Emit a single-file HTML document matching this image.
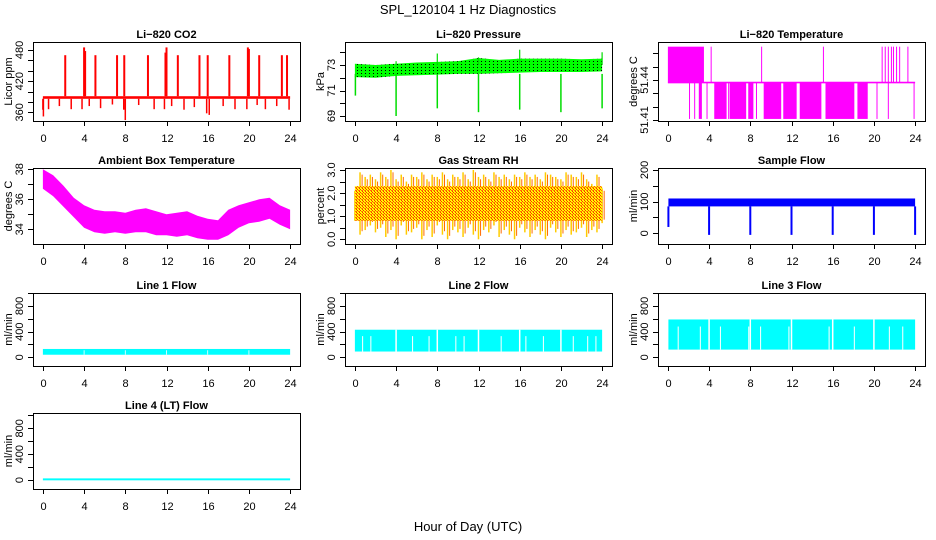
<!DOCTYPE html>
<html><head><meta charset="utf-8"><title>SPL_120104 1 Hz Diagnostics</title>
<style>
html,body{margin:0;padding:0;background:#fff;}
svg{display:block;font-family:"Liberation Sans",Arial,sans-serif;}
</style></head>
<body>
<svg id="chart" width="936" height="540" viewBox="0 0 936 540" xmlns="http://www.w3.org/2000/svg">
<defs>
<pattern id="pGreen" width="4" height="3" patternUnits="userSpaceOnUse"><rect width="4" height="3" fill="#00ff00"/><rect x="1" y="1" width="1" height="1" fill="#000"/></pattern>
<pattern id="pRH" width="3" height="3" patternUnits="userSpaceOnUse"><rect width="3" height="3" fill="#ffff00"/><rect x="0" y="0" width="1" height="1" fill="#ff2a00"/><rect x="1" y="1" width="2" height="1" fill="#ff7000"/><rect x="2" y="2" width="1" height="1" fill="#ff2a00"/></pattern>
</defs>
<text x="468" y="14" text-anchor="middle" font-size="13">SPL_120104  1 Hz Diagnostics</text>
<text x="468" y="531" text-anchor="middle" font-size="13">Hour of Day (UTC)</text>
</svg>
<script>
// ---------- data ----------
const xTicks = [0,4,8,12,16,20,24];
// CO2
const co2BandLo = 386, co2BandHi = 391;
const co2SpikeHours = [2.17,4.0,4.1,5.1,7.2,7.9,10.2,11.9,12.0,13.1,15.2,16.0,18.1,19.9,20.0,21.0,23.2,23.7];
const co2SpikeVals  = [470,485,478,470,470,470,470,475,485,470,470,470,470,485,482,470,470,470];
const co2DipHours = [0.0,0.05,0.55,1.6,2.75,3.8,4.5,5.6,6.75,7.85,8.0,9.3,10.8,11.8,12.5,13.7,14.7,15.9,16.15,17.5,18.65,19.8,20.8,21.6,22.7,23.9];
const co2DipVals  = [365,352,366,372,366,366,372,368,375,365,345,374,366,366,372,365,370,358,355,372,366,366,374,366,372,365];
// Pressure
const presHours = [0,2,4,6,8,10,12,14,16,18,20,22,24];
const presHi = [73.1,73.0,73.1,73.2,73.25,73.3,73.55,73.4,73.5,73.5,73.5,73.45,73.5];
const presLo = [72.05,72.0,72.15,72.2,72.25,72.3,72.3,72.35,72.4,72.45,72.45,72.45,72.5];
const presDipHours = [0.05,4.0,8.0,12.0,16.0,20.0,24.0];
const presDipVals  = [70.6,69.0,69.6,69.3,69.5,69.3,69.6];
const presUpHours = [4.0,8.0,12.0,16.0,20.0,24.0];
const presUpVals  = [73.3,73.9,73.6,74.2,73.4,74.0];
// Li-820 temperature
const tLevels = [51.4108, 51.4381, 51.465];
const tTopBlock = [0.0, 3.5];
const tLowSegStart = [3.0,4.5,6.0,7.8,9.3,11.2,12.8,15.3,18.4];
const tLowSegEnd   = [3.3,5.7,7.6,8.3,11.0,12.5,14.9,18.1,19.4];
const tTopSpikes = [4.2,9.1,15.1,20.8,21.1,21.4,21.7,21.9,22.2,22.5,23.3];
const tLowSpikes = [2.1,2.6,3.8,5.9,8.6,20.3,21.4,23.9];
// Ambient box temperature
const ambHours = [0,1,2,3,4,5,6,7,8,9,10,11,12,13,14,15,16,17,18,19,20,21,22,23,24];
const ambHi = [38.0,37.6,36.9,36.1,35.6,35.3,35.2,35.2,35.1,35.3,35.4,35.2,35.0,35.1,35.2,34.9,34.7,34.6,35.3,35.6,35.8,36.0,36.1,35.6,35.3];
const ambLo = [36.7,36.2,35.5,34.8,34.1,33.8,33.7,33.8,33.7,33.8,33.8,33.6,33.6,33.5,33.6,33.4,33.3,33.3,33.6,34.1,34.4,34.5,34.7,34.3,34.0];
// Gas stream RH (half-hour extremes)
const rhCoreLo = 0.8, rhCoreHi = 2.3;
const rhMax = [2.1,2.9,2.7,2.8,2.6,2.9,2.7,3.0,2.6,2.8,2.5,2.8,2.7,2.9,2.6,2.8,2.7,2.9,2.6,2.8,2.7,2.9,2.6,3.0,2.7,2.8,2.6,2.9,2.7,2.8,2.6,2.8,2.7,2.9,2.7,2.8,2.6,2.9,2.8,2.7,2.6,2.9,2.8,2.7,2.9,2.6,2.4,2.8,2.2];
const rhMin = [0.8,0.2,0.4,0.6,0.3,0.5,0.1,0.4,0.0,0.6,0.2,0.3,0.5,0.0,0.4,0.1,0.6,0.2,0.0,0.4,0.3,0.1,0.5,0.2,0.0,0.4,0.3,0.6,0.1,0.4,0.2,0.0,0.5,0.3,0.1,0.4,0.2,0.0,0.5,0.3,0.1,0.4,0.2,0.3,0.5,0.1,0.4,0.3,0.7];
// Sample flow
const sfBandLo = 85, sfBandHi = 110;
const sfDipHours = [0.05,4.0,8.0,12.0,16.0,20.0,24.0];
const sfDipVals  = [20,-5,-5,-5,-5,-5,-5];
// Line flows
const l1Lo = 40, l1Hi = 130;
const l2Lo = 90, l2Hi = 430, l2GapTop = 330;
const l2PartialGaps = [0.75,1.55,5.6,7.2,9.8,10.6,14.2,16.6,18.3,21.2,22.6,23.4];
const l3Lo = 120, l3Hi = 590, l3GapTop = 480;
const l3PartialGaps = [1.0,3.15,5.1,7.85,9.0,11.75,15.65,18.1,21.5,22.8];
const fullGaps = [4,8,12,16,20];
const l4Lo = -5, l4Hi = 25;

// ---------- helpers ----------
const NS = 'http://www.w3.org/2000/svg';
const svg = document.getElementById('chart');
function mk(tag, attrs, parent){const e=document.createElementNS(NS,tag);for(const k in attrs)e.setAttribute(k,attrs[k]);(parent||svg).appendChild(e);return e;}
const colLeft=[33,345,658], boxW=267;
const rowTop=[42,168,293,413], rowH=[79,76,73,76];
let clipN=0;
function panel(name,title,ylab,col,row,v1,p1,v2,p2,yt,ylabels){
  const L=colLeft[col], T=rowTop[row], H=rowH[row];
  const g=mk('g',{});
  
  
  const sx=h=>L+(h+0.96)/25.92*boxW;
  const sy=v=>p1+(v-v1)*(p2-p1)/(v2-v1);
  const cid='clip'+(clipN++);
  const cp=mk('clipPath',{id:cid},g); mk('rect',{x:L,y:T,width:boxW,height:H},cp);
  const data=mk('g',{'clip-path':'url(#'+cid+')'},g);
  
  
  const box=mk('rect',{x:L+0.5,y:T+0.5,width:boxW,height:H,fill:'none',stroke:'#000','stroke-width':1},g);
  
  
  const t=mk('text',{x:L+boxW/2,y:T-4,'text-anchor':'middle','font-size':11,'font-weight':'bold'},g); t.textContent=title;
  
  
  const B=T+H;
  xTicks.forEach(h=>{
    const x=Math.round(sx(h))+0.5;
    const tk=mk('line',{x1:x,x2:x,y1:B,y2:B+5,stroke:'#000'},g);
    
    
    const lb=mk('text',{x:x,y:B+21,'text-anchor':'middle','font-size':11},g); lb.textContent=h;
    
    
  });
  yt.forEach(v=>{
    const y=Math.round(sy(v))+0.5;
    const tk=mk('line',{x1:L-5,x2:L,y1:y,y2:y,stroke:'#000'},g);
    
    
  });
  ylabels.forEach(s=>{
    const y=sy(parseFloat(s));
    const lb=mk('text',{x:0,y:0,'text-anchor':'middle','font-size':11,transform:'translate('+(L-10)+','+y+') rotate(-90)'},g); lb.textContent=s;
    
    
  });
  const yl=mk('text',{x:0,y:0,'text-anchor':'middle','font-size':11,transform:'translate('+(L-21)+','+(T+H/2)+') rotate(-90)'},g); yl.textContent=ylab;
  
  
  return {sx,sy,g:data};
}
function vline(P,h,a,b,color,w,nm){const e=mk('line',{x1:P.sx(h),x2:P.sx(h),y1:P.sy(a),y2:P.sy(b),stroke:color,'stroke-width':w||1},P.g);
  
  return e;}
function band(P,h0,h1,lo,hi,fill,nm){const y1=P.sy(hi),y2=P.sy(lo);const e=mk('rect',{x:P.sx(h0),y:Math.min(y1,y2),width:P.sx(h1)-P.sx(h0),height:Math.abs(y2-y1),fill:fill},P.g);
  
  return e;}
function area(P,hs,hi,lo,fill,nm){let d='M';hs.forEach((h,i)=>{d+=P.sx(h)+','+P.sy(hi[i])+' L';});for(let i=hs.length-1;i>=0;i--){d+=P.sx(hs[i])+','+P.sy(lo[i])+(i?' L':' Z');}
  const e=mk('path',{d:d,fill:fill},P.g);
  
  return e;}

// ---------- CO2 ----------
const P1=panel('co2-panel','Li\u2212820 CO2','Licor ppm',0,0,360,112.3,480,50,[360,380,400,420,440,460,480],['360','420','480']);
band(P1,0,24,co2BandLo,co2BandHi,'#ff0000','co2-band');
co2SpikeHours.forEach((h,i)=>vline(P1,h,co2BandHi,co2SpikeVals[i],'#ff0000',2,'co2-spike'));
co2DipHours.forEach((h,i)=>vline(P1,h,co2BandLo,co2DipVals[i],'#ff0000',1.5,'co2-dip'));

// ---------- Pressure ----------
const P2=panel('pressure-panel','Li\u2212820 Pressure','kPa',1,0,69,116,73,65,[69,70,71,72,73,74],['69','71','73']);
area(P2,presHours,presHi,presLo,'url(#pGreen)','pressure-band');
presDipHours.forEach((h,i)=>vline(P2,h,72.3,presDipVals[i],'#00dd00',1.5,'pressure-dip'));
presUpHours.forEach((h,i)=>vline(P2,h,73,presUpVals[i],'#00dd00',1.2,'pressure-spike'));

// ---------- Li-820 Temperature ----------
const P3=panel('li820-temperature-panel','Li\u2212820 Temperature','degrees C',2,0,51.41,120,51.44,80,[51.41,51.42,51.43,51.44,51.45,51.46],['51.41','51.44']);
band(P3,tTopBlock[0],tTopBlock[1],tLevels[1],tLevels[2],'#ff00ff','temp-high-block');
band(P3,0,24,tLevels[1]-0.0006,tLevels[1]+0.0006,'#ff00ff','temp-mid-line');
tLowSegStart.forEach((h,i)=>band(P3,h,tLowSegEnd[i],tLevels[0],tLevels[1],'#ff00ff','temp-low-segment'));
tTopSpikes.forEach(h=>vline(P3,h,tLevels[1],tLevels[2],'#ff00ff',1,'temp-high-spike'));
tLowSpikes.forEach(h=>vline(P3,h,tLevels[0],tLevels[1],'#ff00ff',1,'temp-low-spike'));

// ---------- Ambient ----------
const P4=panel('ambient-temperature-panel','Ambient Box Temperature','degrees C',0,1,34,229.3,38,169.3,[34,35,36,37,38],['34','36','38']);
area(P4,ambHours,ambHi,ambLo,'#ff00ff','ambient-band');

// ---------- RH ----------
const P5=panel('rh-panel','Gas Stream RH','percent',1,1,0,239.3,3,170,[0,0.5,1,1.5,2,2.5,3],['0.0','1.0','2.0','3.0']);
rhMax.forEach((v,i)=>{vline(P5,i*0.5,rhMin[i],v,'#ffcc00',1.5,'rh-range');vline(P5,i*0.5+0.2,rhMin[i]+0.15,v-0.1,'#ff6a00',1,'rh-range');});
band(P5,0,24,rhCoreLo,rhCoreHi,'url(#pRH)','rh-band');

// ---------- Sample flow ----------
const P6=panel('sample-flow-panel','Sample Flow','ml/min',2,1,0,233.3,200,170,[0,50,100,150,200],['0','100','200']);
band(P6,0.05,24,sfBandLo,sfBandHi,'#0000ff','sample-flow-band');
sfDipHours.forEach((h,i)=>vline(P6,h,sfBandLo,sfDipVals[i],'#0000ff',2,'sample-flow-dip'));

// ---------- Line flows ----------
const flowTicks=[0,200,400,600,800,1000], flowLabels=['0','400','800'];
const P7=panel('line1-flow-panel','Line 1 Flow','ml/min',0,2,0,357.3,800,306,flowTicks,flowLabels);
band(P7,0,24,l1Lo,l1Hi,'#00ffff','line1-band');
fullGaps.forEach(h=>vline(P7,h,l1Lo,l1Hi-20,'#ffffff',0.8,'line1-gap'));

const P8=panel('line2-flow-panel','Line 2 Flow','ml/min',1,2,0,357.3,800,306,flowTicks,flowLabels);
band(P8,0,24,l2Lo,l2Hi,'#00ffff','line2-band');
fullGaps.forEach(h=>vline(P8,h,l2Lo,l2Hi,'#ffffff',1.5,'line2-gap'));
l2PartialGaps.forEach(h=>vline(P8,h,l2Lo,l2GapTop,'#ffffff',1,'line2-partial-gap'));

const P9=panel('line3-flow-panel','Line 3 Flow','ml/min',2,2,0,357.3,800,306,flowTicks,flowLabels);
band(P9,0.05,24,l3Lo,l3Hi,'#00ffff','line3-band');
fullGaps.forEach(h=>vline(P9,h,l3Lo,l3Hi,'#ffffff',1.5,'line3-gap'));
l3PartialGaps.forEach(h=>vline(P9,h,l3Lo,l3GapTop,'#ffffff',1,'line3-partial-gap'));

const P10=panel('line4-flow-panel','Line 4 (LT) Flow','ml/min',0,3,0,480,800,428.3,flowTicks,flowLabels);
band(P10,0,24,l4Lo,l4Hi,'#00ffff','line4-band');
</script>
</body></html>
